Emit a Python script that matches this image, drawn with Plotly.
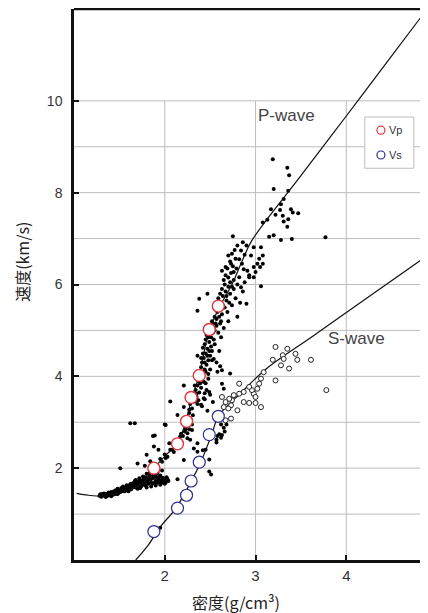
import plotly.graph_objects as go

# ---------------- data ----------------
# Nafe-Drake style reference curves (density g/cm3, velocity km/s)
p_curve_x = [1.03, 1.16, 1.31, 1.46, 1.60, 1.75, 1.89, 2.01, 2.14, 2.23, 2.30, 2.38, 2.43, 2.49, 2.60, 2.74, 2.85, 2.96, 3.50, 4.00, 4.50, 4.89]
p_curve_y = [1.45, 1.41, 1.39, 1.45, 1.52, 1.67, 2.02, 2.28, 2.54, 3.01, 3.54, 4.02, 4.50, 5.00, 5.50, 6.00, 6.50, 6.96, 8.37, 9.67, 10.98, 12.0]
s_curve_x = [1.68, 1.82, 1.95, 2.12, 2.28, 2.39, 2.52, 2.59, 2.85, 3.11, 3.65, 4.20, 4.85]
s_curve_y = [0.00, 0.33, 0.72, 1.12, 1.67, 2.10, 2.75, 3.13, 3.66, 4.15, 4.90, 5.67, 6.57]

# measured Vp / Vs (open coloured circles)
vp_x = [1.88, 2.14, 2.24, 2.29, 2.38, 2.49, 2.59]
vp_y = [2.00, 2.53, 3.02, 3.54, 4.02, 5.02, 5.53]
vs_x = [1.88, 2.14, 2.24, 2.29, 2.38, 2.49, 2.59]
vs_y = [0.62, 1.13, 1.41, 1.72, 2.13, 2.73, 3.13]

# P-wave sample points (black dots)
tail_dots = [
    (1.28, 1.40), (1.30, 1.38), (1.32, 1.41), (1.34, 1.39), (1.36, 1.42), (1.37, 1.40), (1.39, 1.44),
    (1.40, 1.41), (1.42, 1.45), (1.43, 1.42), (1.45, 1.47), (1.46, 1.44), (1.47, 1.50), (1.49, 1.46),
    (1.50, 1.52), (1.51, 1.48), (1.53, 1.54), (1.54, 1.50), (1.55, 1.57), (1.57, 1.52), (1.58, 1.59),
    (1.59, 1.55), (1.61, 1.62), (1.62, 1.56), (1.63, 1.66), (1.65, 1.59), (1.66, 1.69), (1.67, 1.62),
    (1.68, 1.74), (1.70, 1.64), (1.71, 1.70), (1.72, 1.78), (1.73, 1.66), (1.75, 1.73), (1.76, 1.82),
    (1.77, 1.68), (1.78, 1.77), (1.80, 1.70), (1.80, 1.88), (1.82, 1.74), (1.83, 1.82), (1.84, 1.93),
    (1.85, 1.70), (1.87, 1.78), (1.88, 1.86), (1.90, 1.72), (1.91, 1.80), (1.93, 1.76), (1.95, 1.84),
    (1.96, 1.74), (1.98, 1.79), (2.00, 1.75), (2.02, 1.80), (2.04, 1.72), (1.86, 1.92), (1.92, 1.90),
    (1.97, 1.95), (1.74, 1.60), (1.60, 1.50), (1.80, 1.58), (1.85, 1.60), (1.90, 1.62), (1.95, 1.64),
    (2.00, 1.66), (1.70, 1.55),
    (1.29, 1.43), (1.31, 1.44), (1.33, 1.45), (1.35, 1.44), (1.38, 1.47), (1.41, 1.48), (1.44, 1.50),
    (1.46, 1.52), (1.48, 1.55), (1.50, 1.49), (1.52, 1.57), (1.54, 1.60), (1.56, 1.54), (1.58, 1.63),
    (1.60, 1.57), (1.62, 1.65), (1.64, 1.61), (1.66, 1.64), (1.67, 1.72), (1.69, 1.67), (1.71, 1.60),
    (1.72, 1.74), (1.74, 1.69), (1.76, 1.64), (1.77, 1.76), (1.79, 1.80), (1.79, 1.62), (1.81, 1.78),
    (1.82, 1.66), (1.84, 1.76), (1.86, 1.66), (1.87, 1.84), (1.89, 1.68), (1.90, 1.86), (1.92, 1.68),
    (1.94, 1.72), (1.96, 1.69), (1.99, 1.71), (2.01, 1.69), (2.03, 1.76), (1.83, 1.88), (1.88, 1.82),
    (1.94, 1.82), (1.98, 1.68), (1.73, 1.57), (1.68, 1.58), (1.63, 1.54), (1.56, 1.50), (1.48, 1.44),
    (1.41, 1.39), (1.35, 1.37),
]
scatter_dots = [
    (1.51, 2.00), (1.62, 2.98), (1.67, 2.98), (1.89, 2.71), (1.80, 2.29), (2.01, 2.94), (2.06, 3.45),
    (2.14, 3.16), (2.08, 2.40), (2.21, 2.18), (2.14, 1.76), (2.32, 2.43), (2.36, 2.54), (2.36, 2.36),
    (2.41, 2.14), (2.49, 1.93), (2.45, 2.40), (1.97, 2.14), (2.01, 2.22), (1.93, 2.40), (1.88, 2.47),
    (2.05, 2.54), (2.17, 2.69), (2.25, 2.76), (2.21, 2.98), (2.27, 3.27), (2.40, 3.38), (2.43, 3.52),
    (2.44, 3.63), (2.30, 2.83), (1.95, 0.70), (2.00, 2.95), (1.87, 2.70), (1.70, 2.10), (1.78, 2.05),
    (1.84, 2.15), (1.92, 2.05), (2.51, 1.86), (2.42, 2.39), (2.49, 2.19), (2.57, 2.62), (2.62, 2.66),
    (2.62, 2.95), (2.68, 2.95), (2.66, 2.80), (2.60, 2.74), (2.57, 2.56), (2.72, 4.06), (2.61, 4.22),
    (2.63, 4.13), (2.63, 3.84), (2.65, 3.73), (2.49, 3.66), (2.53, 3.44), (2.65, 2.88), (2.63, 2.72),
    (2.58, 2.70), (2.21, 3.80), (2.21, 3.33),
]
band_dots = [
    (1.95, 2.20), (2.00, 2.30), (2.03, 2.25), (2.06, 2.40), (2.10, 2.35), (2.12, 2.50), (2.15, 2.45),
    (2.17, 2.60), (2.19, 2.55), (2.20, 2.70), (2.22, 2.80), (2.18, 2.75), (2.24, 2.90), (2.21, 2.95),
    (2.25, 2.65), (2.28, 2.62), (2.27, 2.85), (2.30, 2.95),
    (2.25, 3.10), (2.27, 3.20), (2.29, 3.05), (2.30, 3.30), (2.28, 3.40), (2.31, 3.15), (2.33, 3.45),
    (2.32, 3.60), (2.34, 3.70), (2.35, 3.55), (2.36, 3.80), (2.37, 3.90), (2.38, 3.65), (2.40, 3.75),
    (2.35, 3.95), (2.41, 3.35), (2.44, 3.50), (2.45, 3.85), (2.47, 3.25), (2.50, 3.60),
    (2.38, 4.10), (2.40, 4.20), (2.42, 4.05), (2.41, 4.30), (2.43, 4.40), (2.44, 4.15), (2.45, 4.50),
    (2.46, 4.25), (2.47, 4.60), (2.48, 4.35), (2.44, 4.70), (2.49, 4.75), (2.50, 4.45), (2.51, 4.85),
    (2.46, 4.90), (2.52, 4.55), (2.53, 4.95), (2.55, 4.70), (2.57, 4.30), (2.60, 4.55), (2.62, 4.85),
    (2.58, 4.10), (2.50, 4.15), (2.36, 4.45), (2.42, 4.62), (2.48, 4.05), (2.54, 4.38),
    (2.50, 5.10), (2.52, 5.20), (2.54, 5.05), (2.55, 5.30), (2.56, 5.15), (2.58, 5.40), (2.57, 5.25),
    (2.60, 5.45), (2.62, 5.60), (2.59, 5.70), (2.63, 5.35), (2.64, 5.75), (2.66, 5.50), (2.67, 5.85),
    (2.68, 5.65), (2.70, 5.95), (2.72, 5.80), (2.74, 5.55), (2.76, 5.90), (2.78, 5.70), (2.80, 5.30),
    (2.83, 5.60), (2.70, 5.20), (2.65, 5.05), (2.86, 5.85), (2.90, 5.58), (2.84, 5.94), (2.38, 5.69),
    (2.36, 5.43), (2.47, 5.80), (2.61, 5.15), (2.69, 5.40),
    (2.72, 6.05), (2.76, 6.10), (2.80, 6.00), (2.88, 6.05), (2.93, 6.20), (3.06, 5.96), (3.08, 6.45),
    (3.05, 6.38), (2.65, 6.10), (2.98, 6.81), (3.06, 6.81), (3.08, 6.63), (3.04, 6.56), (3.02, 6.45),
    (2.98, 6.38), (2.95, 6.63), (2.80, 6.85), (2.84, 6.74), (2.74, 6.67), (2.78, 6.56), (2.70, 6.63),
    (2.73, 6.45), (2.67, 6.38), (2.63, 6.30), (2.76, 6.27), (2.91, 6.30), (3.00, 6.27), (2.93, 6.16),
    (2.82, 6.16), (2.67, 6.20), (2.87, 6.33), (2.98, 6.16), (2.75, 7.05), (2.86, 6.92),
    (2.33, 3.80), (2.35, 3.62), (2.37, 3.48), (2.39, 3.85), (2.41, 3.95), (2.39, 4.00), (2.43, 3.88),
    (2.46, 3.70), (2.48, 3.95), (2.40, 4.40), (2.42, 4.50), (2.44, 4.30), (2.45, 4.80), (2.47, 4.45),
    (2.49, 4.55), (2.51, 4.65), (2.52, 4.35), (2.48, 4.85), (2.50, 4.95), (2.53, 5.15), (2.55, 5.00),
    (2.56, 5.45), (2.58, 5.55), (2.57, 5.10), (2.60, 5.30), (2.61, 5.80), (2.63, 5.90), (2.64, 5.55),
    (2.66, 6.00), (2.68, 5.75), (2.70, 6.15), (2.71, 5.60), (2.73, 6.25), (2.69, 6.35), (2.72, 6.50),
    (2.75, 6.40), (2.77, 6.75), (2.79, 6.35), (2.82, 6.55), (2.85, 6.45), (2.88, 6.65), (2.90, 6.85),
    (2.74, 5.95), (2.62, 5.20), (2.59, 4.95), (2.54, 4.80), (2.45, 4.10), (2.36, 3.40), (2.31, 3.45),
    (2.26, 3.00), (2.23, 2.85),
]
upper_dots = [
    (3.19, 8.73), (3.35, 8.54), (3.37, 8.38), (3.20, 8.08), (3.36, 8.04), (3.28, 7.75), (3.31, 7.86),
    (3.17, 7.64), (3.39, 7.64), (3.47, 7.55), (3.27, 7.62), (3.22, 7.52), (3.30, 7.50), (3.41, 7.57),
    (3.31, 7.37), (3.36, 7.42), (3.13, 7.41), (3.35, 7.26), (3.15, 7.04), (3.20, 7.07), (3.28, 6.97),
    (3.40, 6.99), (3.77, 7.03), (3.08, 7.35),
]
# S-wave sample points (small open circles)
s_dots = [
    (3.22, 4.64), (3.35, 4.60), (3.30, 4.46), (3.31, 4.38), (3.46, 4.36), (3.61, 4.36), (3.19, 4.36),
    (3.28, 4.24), (3.37, 4.17), (3.44, 4.49), (3.22, 3.91), (3.78, 3.70), (3.09, 4.09), (3.06, 3.95),
    (3.04, 3.84), (3.02, 3.73), (2.98, 3.62), (3.00, 3.55), (2.96, 3.70), (2.93, 3.77), (2.87, 3.66),
    (2.82, 3.84), (2.82, 3.62), (2.76, 3.59), (2.74, 3.48), (2.71, 3.51), (2.67, 3.44), (2.63, 3.55),
    (2.65, 3.33), (2.73, 3.37), (2.93, 3.42), (3.00, 3.42), (3.06, 3.33), (2.80, 3.26), (2.70, 3.30),
    (2.73, 3.08), (2.67, 3.04), (2.87, 3.44),
]

x_tick_vals = [2, 3, 4]
y_tick_vals = [2, 4, 6, 8, 10]
grid_x = [2, 3, 4]
grid_y = [1, 2, 3, 4, 5, 6, 7, 8, 9, 10]
x_range = [1, 4.9]
y_range = [0, 12]

# ---------------- figure ----------------
black_dots = tail_dots + scatter_dots + band_dots + upper_dots

fig = go.Figure()
fig.add_trace(go.Scatter(
    x=[p[0] for p in black_dots], y=[p[1] for p in black_dots], mode="markers",
    marker=dict(size=4, color="black"), showlegend=False, hoverinfo="skip"))
fig.add_trace(go.Scatter(
    x=p_curve_x, y=p_curve_y, mode="lines", line=dict(color="#111", width=1.2, shape="spline"),
    showlegend=False))
fig.add_trace(go.Scatter(
    x=s_curve_x, y=s_curve_y, mode="lines", line=dict(color="#111", width=1.2, shape="spline"),
    showlegend=False))
fig.add_trace(go.Scatter(
    x=[p[0] for p in s_dots], y=[p[1] for p in s_dots], mode="markers",
    marker=dict(size=5, color="white", line=dict(color="#222", width=1)), showlegend=False))
fig.add_trace(go.Scatter(
    x=vp_x, y=vp_y, mode="markers", name="Vp",
    marker=dict(size=12, color="white", line=dict(color="#e0353d", width=1.4)), showlegend=False))
fig.add_trace(go.Scatter(
    x=vs_x, y=vs_y, mode="markers", name="Vs",
    marker=dict(size=12, color="white", line=dict(color="#2b2d94", width=1.2)), showlegend=False))

shapes = []
for gy in grid_y:
    shapes.append(dict(type="line", xref="x", yref="y", x0=x_range[0], x1=x_range[1], y0=gy, y1=gy,
                       line=dict(color="#bdbdbd", width=1), layer="below"))
for gx in grid_x:
    shapes.append(dict(type="line", xref="x", yref="y", x0=gx, x1=gx, y0=0, y1=grid_y[-1],
                       line=dict(color="#bdbdbd", width=1), layer="below"))
# top frame line
shapes.append(dict(type="line", xref="paper", yref="paper", x0=0, x1=1, y0=1, y1=1,
                   line=dict(color="#111", width=2.5)))
# manual legend box
shapes.append(dict(type="rect", xref="paper", yref="paper", x0=0.8215, x1=0.960, y0=0.711, y1=0.804,
                   line=dict(color="#bdbdbd", width=1), fillcolor="white"))
for yy, col in [(0.780, "#e0353d"), (0.735, "#2b2d94")]:
    shapes.append(dict(type="circle", xref="paper", yref="paper", xsizemode="pixel", ysizemode="pixel",
                       xanchor=0.867, yanchor=yy, x0=-4, x1=4, y0=-4, y1=4,
                       line=dict(color=col, width=1.2)))

annotations = [
    dict(text="Vp", xref="paper", yref="paper", x=0.885, y=0.780, xanchor="left", yanchor="middle",
         showarrow=False, font=dict(size=11, color="#333", family="Liberation Sans")),
    dict(text="Vs", xref="paper", yref="paper", x=0.885, y=0.735, xanchor="left", yanchor="middle",
         showarrow=False, font=dict(size=11, color="#333", family="Liberation Sans")),
    dict(text="P-wave", xref="x", yref="y", x=3.34, y=9.67, showarrow=False,
         xanchor="center", yanchor="middle",
         font=dict(size=17, color="#444", family="Liberation Sans")),
    dict(text="S-wave", xref="x", yref="y", x=4.11, y=4.83, showarrow=False,
         xanchor="center", yanchor="middle",
         font=dict(size=17, color="#444", family="Liberation Sans")),
    dict(text="速度(km/s)", xref="paper", yref="paper", x=-0.147, y=0.541, textangle=-90,
         xanchor="center", yanchor="middle",
         showarrow=False, font=dict(size=16, color="#222", family="Noto Sans CJK JP")),
    dict(text="密度(g/cm³)", xref="paper", yref="paper", x=0.458, y=-0.076, showarrow=False,
         xanchor="center", yanchor="middle",
         font=dict(size=16, color="#222", family="Noto Sans CJK JP")),
]

# the page body adds an 8px offset, so the figure is sized 8px smaller than the window
fig.update_layout(
    width=420, height=605,
    margin=dict(l=66, r=0, t=1, b=53),
    paper_bgcolor="white", plot_bgcolor="white",
    shapes=shapes, annotations=annotations,
    xaxis=dict(range=x_range, tickvals=x_tick_vals, ticks="inside", ticklen=5, tickwidth=2,
               tickcolor="#111", showgrid=False, zeroline=False, showline=True, linecolor="#111",
               linewidth=2.5, tickfont=dict(size=15, color="#333", family="Liberation Sans")),
    yaxis=dict(range=y_range, tickvals=y_tick_vals, ticks="inside", ticklen=5, tickwidth=2,
               tickcolor="#111", showgrid=False, zeroline=False, showline=True, linecolor="#111",
               linewidth=2.5, tickfont=dict(size=14, color="#333", family="Liberation Sans"),
               ticklabelstandoff=6),
)

fig.write_html("out.html")
